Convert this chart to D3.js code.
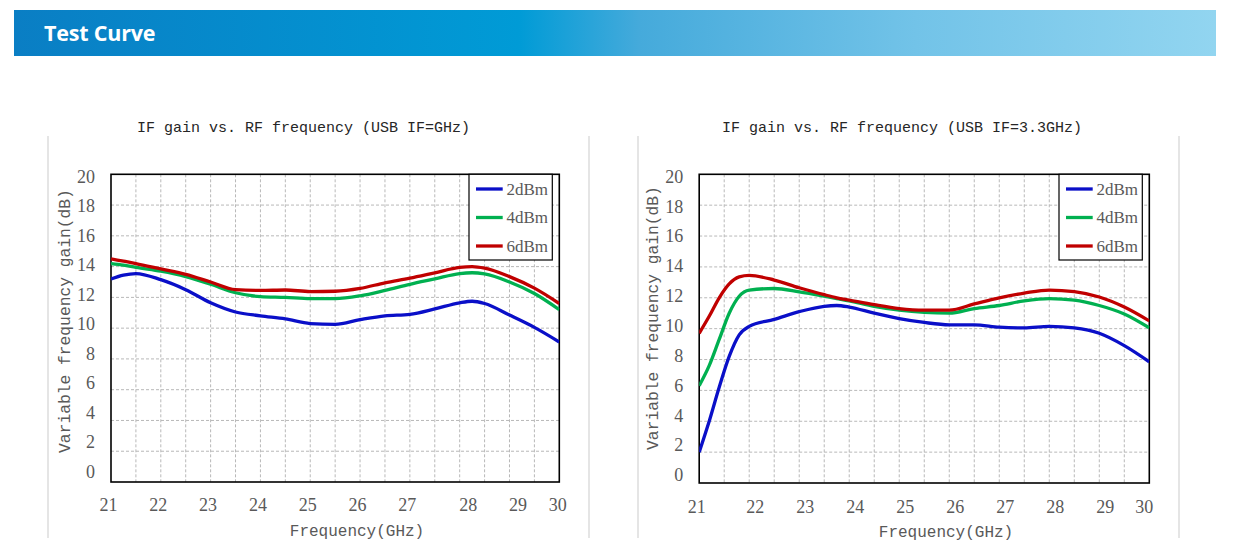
<!DOCTYPE html>
<html><head><meta charset="utf-8">
<script src="https://cdn.jsdelivr.net/npm/d3@7/dist/d3.min.js"></script>
<style>body{margin:0;background:#fff} svg{display:block}</style>
</head><body>
<svg id="c" width="1252" height="557"></svg>
<script>
// ---------------- data ----------------
const headerTitle = "Test Curve";
const seriesNames = ["2dBm", "4dBm", "6dBm"];
const xTicks = [21, 22, 23, 24, 25, 26, 27, 28, 29, 30];
const yTicks = [0, 2, 4, 6, 8, 10, 12, 14, 16, 18, 20];
const xTitle = "Frequency(GHz)";
const yTitle = "Variable frequency gain(dB)";

const leftTitle = "IF gain vs. RF frequency (USB IF=GHz)";
const leftFreq  = [21, 21.25, 21.5, 22, 22.5, 23, 23.5, 24, 24.5, 25, 25.5, 26, 26.5, 27, 27.5, 28, 28.25, 28.5, 29, 29.5, 30];
const leftGain2 = [13.2, 13.45, 13.55, 13.15, 12.5, 11.65, 11.05, 10.8, 10.6, 10.3, 10.25, 10.55, 10.8, 10.9, 11.25, 11.65, 11.75, 11.6, 10.85, 10.05, 9.1];
const leftGain4 = [14.2, 14.1, 13.95, 13.7, 13.35, 12.85, 12.3, 12.05, 12.0, 11.92, 11.92, 12.1, 12.45, 12.85, 13.2, 13.55, 13.6, 13.52, 13.0, 12.25, 11.2];
const leftGain6 = [14.5, 14.35, 14.2, 13.85, 13.5, 13.0, 12.5, 12.45, 12.48, 12.38, 12.4, 12.58, 12.95, 13.25, 13.6, 13.95, 14.0, 13.9, 13.35, 12.6, 11.6];

const rightTitle = "IF gain vs. RF frequency (USB IF=3.3GHz)";
const rightFreq  = [21, 21.2, 21.4, 21.6, 21.8, 22, 22.5, 23, 23.5, 23.75, 24, 24.5, 25, 25.5, 26, 26.5, 27, 27.5, 28, 28.5, 29, 29.5, 30];
const rightGain2 = [2.0, 4.0, 6.2, 8.2, 9.6, 10.15, 10.6, 11.1, 11.45, 11.5, 11.4, 11.0, 10.65, 10.4, 10.25, 10.25, 10.1, 10.05, 10.15, 10.05, 9.7, 8.9, 7.85];
const rightGain4 = [6.3, 7.6, 9.3, 11.0, 12.1, 12.5, 12.6, 12.38, 12.1, 11.95, 11.8, 11.45, 11.2, 11.05, 11.0, 11.3, 11.5, 11.8, 11.95, 11.85, 11.5, 10.95, 10.05];
const rightGain6 = [9.7, 10.8, 12.0, 12.9, 13.35, 13.45, 13.15, 12.65, 12.2, 12.0, 11.85, 11.55, 11.3, 11.2, 11.2, 11.6, 12.0, 12.3, 12.5, 12.4, 12.05, 11.4, 10.5];

// ---------------- styles / layout ----------------
const colors = ["#0a0fc8", "#00b050", "#c00000"];
const tickColor = "#595959";
const monoFont = "'Liberation Mono', 'DejaVu Sans Mono', monospace";
const serifFont = "'Liberation Serif', 'DejaVu Serif', serif";

const svg = d3.select("#c");
const defs = svg.append("defs");

// header banner
const grad = defs.append("linearGradient").attr("id", "hdr").attr("x1", "0%").attr("x2", "100%");
[["0%", "#0a7ec4"], ["42%", "#009bd6"], ["52%", "#45aadb"], ["75%", "#72c3e8"], ["100%", "#92d5f0"]]
  .forEach(([o, c]) => grad.append("stop").attr("offset", o).attr("stop-color", c));
svg.append("rect").attr("x", 14).attr("y", 10).attr("width", 1202).attr("height", 46).attr("fill", "url(#hdr)");
svg.append("text").attr("x", 44).attr("y", 40.5).attr("fill", "#fff")
  .attr("font-family", "'Open Sans', 'Noto Sans', sans-serif").attr("font-weight", 700)
  .attr("font-size", 21.5).attr("letter-spacing", -0.2).text(headerTitle);

const charts = [
  { id: "L", title: leftTitle, freq: leftFreq, gains: [leftGain2, leftGain4, leftGain6],
    left: 111, right: 559.3, top: 174.3, bottom: 482,
    panelL: 48, panelR: 589, titleX: 303.5,
    yLabTop: 176.7, yLabBottom: 471.7, xLabY: 505,
    xNudge: v => (v === 30 ? -2 : (v === 28 || v === 29) ? 8 : -3),
    yTitleX: 64, yTitleY: 321, xTitleX: 357, xTitleY: 530 },
  { id: "R", title: rightTitle, freq: rightFreq, gains: [rightGain2, rightGain4, rightGain6],
    left: 699.2, right: 1149.3, top: 174.3, bottom: 483,
    panelL: 638, panelR: 1179, titleX: 902,
    yLabTop: 176.5, yLabBottom: 475, xLabY: 507,
    xNudge: v => (v === 21 ? -3 : v === 30 ? -5.5 : 5.5),
    yTitleX: 652, yTitleY: 318, xTitleX: 946, xTitleY: 531 }
];

charts.forEach(ch => {
  const g = svg.append("g");
  const x = d3.scaleLinear().domain([21, 30]).range([ch.left, ch.right]);
  const y = d3.scaleLinear().domain([0, 20]).range([ch.bottom, ch.top]);
  const yLab = d3.scaleLinear().domain([0, 20]).range([ch.yLabBottom, ch.yLabTop]);

  // panel side borders
  [ch.panelL, ch.panelR].forEach(px => g.append("line")
    .attr("x1", px).attr("x2", px).attr("y1", 136).attr("y2", 538)
    .attr("stroke", "#dcdcdc").attr("stroke-width", 1.5));

  // title
  g.append("text").attr("x", ch.titleX).attr("y", 132).attr("text-anchor", "middle")
    .attr("font-family", monoFont).attr("font-size", 15).attr("fill", "#262626").text(ch.title);

  // grid
  const vGrid = d3.range(21.5, 30, 0.5);
  g.append("g").selectAll("line").data(vGrid).join("line")
    .attr("x1", d => x(d)).attr("x2", d => x(d)).attr("y1", ch.top).attr("y2", ch.bottom)
    .attr("stroke", "#b8b8b8").attr("stroke-width", 1).attr("stroke-dasharray", "3,2");
  g.append("g").selectAll("line").data(yTicks.filter(v => v > 0 && v < 20)).join("line")
    .attr("x1", ch.left).attr("x2", ch.right).attr("y1", d => y(d)).attr("y2", d => y(d))
    .attr("stroke", "#b8b8b8").attr("stroke-width", 1).attr("stroke-dasharray", "3,2");

  // plot border
  g.append("rect").attr("x", ch.left).attr("y", ch.top)
    .attr("width", ch.right - ch.left).attr("height", ch.bottom - ch.top)
    .attr("fill", "none").attr("stroke", "#000").attr("stroke-width", 1.6);

  // y tick labels
  const yAx = g.append("g").attr("transform", `translate(${ch.left - 16},0)`)
    .call(d3.axisLeft(yLab).tickValues(yTicks).tickSize(0).tickPadding(0));
  yAx.select(".domain").remove();
  yAx.selectAll("text").attr("font-family", serifFont).attr("font-size", 18).attr("fill", tickColor);

  // x tick labels
  const xAx = g.append("g").attr("transform", `translate(0,${ch.xLabY})`)
    .call(d3.axisBottom(x).tickValues(xTicks).tickSize(0).tickPadding(0));
  xAx.select(".domain").remove();
  xAx.selectAll("text").attr("font-family", serifFont).attr("font-size", 18).attr("fill", tickColor)
    .attr("y", 0).attr("dx", d => ch.xNudge(d)).attr("dy", "0.35em");

  // axis titles
  g.append("text").attr("transform", `translate(${ch.yTitleX},${ch.yTitleY}) rotate(-90)`)
    .attr("text-anchor", "middle").attr("dy", "0.35em")
    .attr("font-family", monoFont).attr("font-size", 16.3).attr("fill", tickColor).text(yTitle);
  g.append("text").attr("x", ch.xTitleX).attr("y", ch.xTitleY).attr("dy", "0.35em")
    .attr("text-anchor", "middle")
    .attr("font-family", monoFont).attr("font-size", 16).attr("fill", tickColor).text(xTitle);

  // clip
  defs.append("clipPath").attr("id", "clip" + ch.id).append("rect")
    .attr("x", ch.left).attr("y", ch.top).attr("width", ch.right - ch.left).attr("height", ch.bottom - ch.top);

  // curves
  const line = d3.line().x(d => x(d[0])).y(d => y(d[1])).curve(d3.curveMonotoneX);
  const lg = g.append("g").attr("clip-path", `url(#clip${ch.id})`);
  ch.gains.forEach((vals, i) => {
    lg.append("path").datum(ch.freq.map((f, k) => [f, vals[k]]))
      .attr("d", line).attr("fill", "none").attr("stroke", colors[i])
      .attr("stroke-width", 3.3).attr("stroke-linejoin", "round");
  });

  // legend
  const bx = ch.right - 90.3, bw = 83.3, by = ch.top, bh = 85.7;
  const leg = g.append("g");
  leg.append("rect").attr("x", bx).attr("y", by).attr("width", bw).attr("height", bh)
    .attr("fill", "#fff").attr("stroke", "#000").attr("stroke-width", 1.2);
  seriesNames.forEach((nm, i) => {
    const ly = by + 14.7 + i * 28.5;
    leg.append("line").attr("x1", bx + 7).attr("x2", bx + 33.7).attr("y1", ly).attr("y2", ly)
      .attr("stroke", colors[i]).attr("stroke-width", 3.3);
    leg.append("text").attr("x", bx + 37.5).attr("y", ly).attr("dy", "0.35em")
      .attr("font-family", serifFont).attr("font-size", 17).attr("fill", tickColor).text(nm);
  });
});
</script>
</body></html>
